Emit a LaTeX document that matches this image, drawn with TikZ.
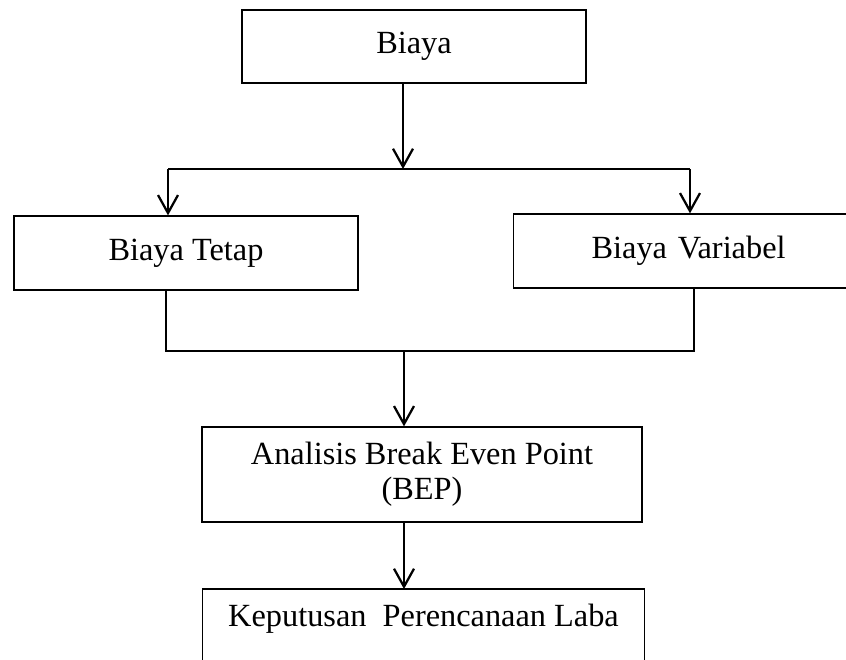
\documentclass[tikz,border=0pt]{standalone}
\usepackage{fontspec}
\setmainfont{Liberation Serif}
\usetikzlibrary{arrows.meta}

\begin{document}
\begin{tikzpicture}[>={Straight Barb[length=4.5mm,width=5mm]},
  box/.style={draw, line width=0.9pt, inner sep=0pt, font=\fontsize{23}{25}\selectfont},
  link/.style={line width=1.6pt}]
  \useasboundingbox (0,0) rectangle (21.15,-16.475);
  \clip (0,0) rectangle (21.15,-16.475);

  \node[box, minimum width=8.6cm, minimum height=1.825cm] (biaya) at (10.35,-1.1625) {Biaya};
  \node[box, minimum width=8.6cm, minimum height=1.85cm] (tetap) at (4.65,-6.325) {Biaya Tetap};
  \node[box, anchor=west, minimum height=1.85cm, text width=5.025cm, inner xsep=1.95cm, align=left] (variabel) at (12.825,-6.275) {Biaya Variabel};
  \node[box, minimum width=11cm, minimum height=2.375cm, align=center] (bep) at (10.55,-11.8625) {Analisis Break Even Point\\(BEP)};
  \node[box, draw=none, anchor=north, minimum width=11.025cm, minimum height=1.45cm] (kep) at (10.5875,-14.725) {Keputusan\ \ Perencanaan Laba};
  \draw[line width=0.9pt] (kep.north west) ++(0,-2) -- (kep.north west) -- (kep.north east) -- ++(0,-2);

  \coordinate (split) at (10.075,-4.225);
  \coordinate (splitL) at (4.2,-4.225);
  \coordinate (splitR) at (17.25,-4.225);
  \coordinate (joinL) at (4.15,-8.775);
  \coordinate (joinR) at (17.35,-8.775);
  \coordinate (join) at (10.1,-8.775);

  \draw[link, ->] (biaya.south -| split) -- (split);
  \draw[link] (splitL) -- (splitR);
  \draw[link, ->] (splitL) -- (splitL |- tetap.north);
  \draw[link, ->] (splitR) -- (splitR |- variabel.north);
  \draw[link] (joinL |- tetap.south) -- (joinL) -- (joinR) -- (joinR |- variabel.south);
  \draw[link, ->] (join) -- (join |- bep.north);
  \draw[link, ->] (bep.south -| join) -- (join |- kep.north);
\end{tikzpicture}
\end{document}
